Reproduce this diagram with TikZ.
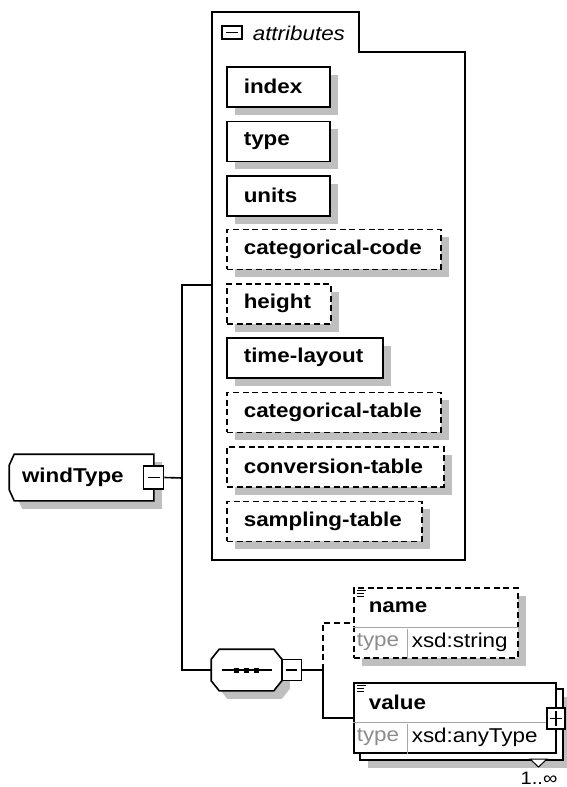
\documentclass[tikz,border=0pt]{standalone}
\usepackage{fontspec}
\setmainfont{Liberation Sans}[FakeStretch=1.12]
\usetikzlibrary{shadows}
\exhyphenpenalty=10000
\hyphenpenalty=10000

\begin{document}
\begin{tikzpicture}[x=1pt, y=-1pt, line width=1.6pt,
  every node/.style={font=\fontsize{20}{23}\selectfont, inner sep=0pt},
  boxshadow/.style={drop shadow={shadow xshift=8pt, shadow yshift=-8pt, fill=black!25, opacity=1}},
  optline/.style={dash pattern=on 6pt off 3.7pt},
  attrbox/.style={draw, fill=white, boxshadow, anchor=north west, minimum height=40,
    inner xsep=17pt, align=left, font=\fontsize{20}{23}\selectfont\bfseries},
  optbox/.style={attrbox, optline},
  typebox/.style={draw, fill=white, anchor=north west, minimum width=164, minimum height=70},
  divider/.style={black!35, line width=1pt},
  togglebox/.style={draw, fill=white, minimum width=20, minimum height=22, line width=1.3pt},
  minus/.style={togglebox, path picture={
    \draw[line width=1.3pt] ([xshift=4pt]path picture bounding box.west) -- ([xshift=-4pt]path picture bounding box.east);}},
  plus/.style={togglebox, path picture={
    \draw[line width=1.3pt] ([xshift=3pt]path picture bounding box.west) -- ([xshift=-3pt]path picture bounding box.east);
    \draw[line width=1.3pt] ([yshift=-3pt]path picture bounding box.north) -- ([yshift=3pt]path picture bounding box.south);}},
  bold/.style={font=\fontsize{20}{23}\selectfont\bfseries},
  typelbl/.style={text=black!45}]
  \useasboundingbox (0,0) rectangle (567,787);

  % attribute group
  \draw (212,12) -- (359,12) -- (359,52) -- (465,52) -- (465,560) -- (212,560) -- cycle;
  \node[minus, minimum height=13] (attrtoggle) at (232,32.5) {};
  \node[anchor=west, font=\fontsize{20}{23}\selectfont\itshape] (attrtitle) at (252,33) {attributes};

  \node[attrbox, text width=69] (index) at (226,66) {index};
  \node[attrbox, text width=69] (type) at (226,120.5) {type};
  \node[attrbox, text width=69] (units) at (226,175) {units};
  \node[optbox, text width=180] (catcode) at (226,228.5) {categorical-code};
  \node[optbox, text width=70] (height) at (226,283) {height};
  \node[attrbox, text width=122] (timelayout) at (226,337) {time-layout};
  \node[optbox, text width=180] (cattable) at (226,391.5) {categorical-table};
  \node[optbox, text width=183] (convtable) at (226,446) {conversion-table};
  \node[optbox, text width=161] (samptable) at (226,500.5) {sampling-table};

  % element
  \node[minimum width=143, minimum height=45] (wtype) at (81.5,477.5) {};
  \draw[fill=white, boxshadow] ([xshift=5pt]wtype.north west) -- (wtype.north east)
    -- (wtype.south east) -- ([xshift=5pt]wtype.south west)
    -- ([yshift=11pt]wtype.south west) -- ([yshift=-11pt]wtype.north west) -- cycle;
  \node[anchor=west, bold] (wtypelbl) at ([xshift=12pt]wtype.west) {windType};
  \node[minus, minimum height=23] (wtoggle) at (wtype.east) {};

  % sequence
  \node[minimum width=69, minimum height=40] (seq) at (246.5,670) {};
  \draw[fill=white, boxshadow] ([xshift=8pt]seq.north west) -- ([xshift=-8pt]seq.north east)
    -- ([yshift=-10pt]seq.north east) -- ([yshift=10pt]seq.south east)
    -- ([xshift=-8pt]seq.south east) -- ([xshift=8pt]seq.south west)
    -- ([yshift=10pt]seq.south west) -- ([yshift=-10pt]seq.north west) -- cycle;
  \draw[line width=1.3pt] ([xshift=-25pt]seq.center) -- ([xshift=25pt]seq.center);
  \fill ([shift={(-12.5,-2.5)}]seq.center) rectangle ++(5,5);
  \fill ([shift={(-2.5,-2.5)}]seq.center) rectangle ++(5,5);
  \fill ([shift={(7.5,-2.5)}]seq.center) rectangle ++(5,5);
  \node[minus, minimum width=19, minimum height=21, anchor=west] (stoggle) at (seq.east) {};

  % name
  \node[typebox, boxshadow, optline] (namebox) at (353,587) {};
  \draw[divider] ([yshift=-40pt]namebox.north west) -- ([yshift=-40pt]namebox.north east);
  \draw[divider] ([xshift=54pt]namebox.south west) -- ++(0,-30);
  \draw[line width=1pt] ([shift={(4,3)}]namebox.north west) -- ++(9,0)
    ([shift={(4,6)}]namebox.north west) -- ++(7,0)
    ([shift={(4,9)}]namebox.north west) -- ++(7,0);
  \node[anchor=west, bold] (namelbl) at (368,607) {name};
  \node[anchor=west, typelbl] (nametype) at (356,642) {type};
  \node[anchor=west] (namexsd) at (411,642) {xsd:string};

  % value
  \node[typebox, boxshadow, minimum width=203, minimum height=71] (valueback) at (359,688) {};
  \node[typebox, minimum width=202] (valuebox) at (353,682) {};
  \draw[divider] ([yshift=-40pt]valuebox.north west) -- ([yshift=-40pt]valuebox.north east);
  \draw[divider] ([xshift=54pt]valuebox.south west) -- ++(0,-30);
  \draw[line width=1pt] ([shift={(4,3)}]valuebox.north west) -- ++(9,0)
    ([shift={(4,6)}]valuebox.north west) -- ++(7,0)
    ([shift={(4,9)}]valuebox.north west) -- ++(7,0);
  \node[anchor=west, bold] (valuelbl) at (368,702) {value};
  \node[anchor=west, typelbl] (valuetype) at (356,737) {type};
  \node[anchor=west] (valuexsd) at (411,737) {xsd:anyType};
  \node[plus, minimum width=18, minimum height=21] (vtoggle) at (556,718.5) {};
  \draw[fill=white, line width=1pt] (530,759) -- (547,759) -- (538.5,767) -- cycle;
  \node[anchor=south, font=\fontsize{18}{20}\selectfont] (occurs) at (539,785) {1..∞};

  % connectors
  \coordinate (attrin) at (212,285);
  \coordinate (trunk) at (182,478);
  \coordinate (branch) at (323,670);
  \draw (wtoggle.east) -- (trunk);
  \draw (attrin) -| (trunk) |- (seq.west);
  \draw (stoggle.east) -- (branch);
  \draw[optline] (branch) |- (namebox.west);
  \draw (branch) |- (valuebox.west);
\end{tikzpicture}
\end{document}
